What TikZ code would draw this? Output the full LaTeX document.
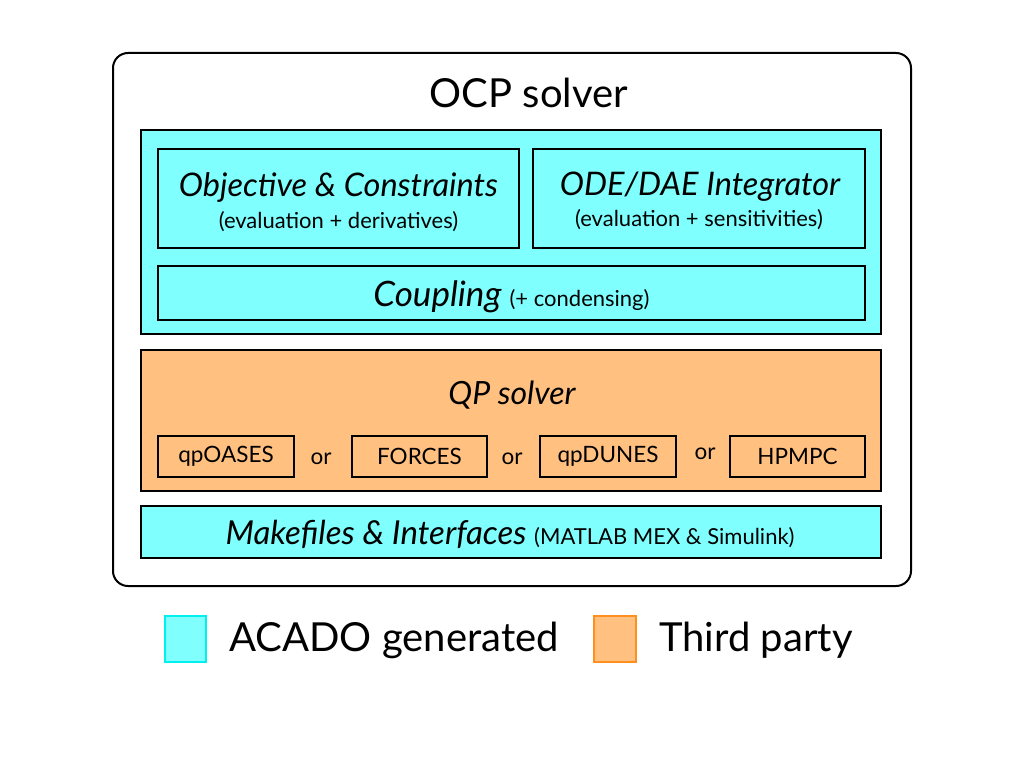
\documentclass[tikz,border=0pt]{standalone}
\usepackage{fontspec}
\setmainfont{Lato}
\definecolor{acado}{HTML}{80FFFF}
\definecolor{third}{HTML}{FFC080}
\definecolor{acadoedge}{HTML}{00F0F0}
\definecolor{thirdedge}{HTML}{FF9020}
\begin{document}
\begin{tikzpicture}[x=1pt,y=-1pt,
  box/.style={draw=black,line width=2pt},
  cyanbox/.style={box,fill=acado},
  orangebox/.style={box,fill=third},
  lbl/.style={inner sep=0pt,anchor=center}]
\useasboundingbox (0,0) rectangle (1024,768);
\draw[line width=2pt,rounded corners=15pt,fill=white] (113,53) rectangle (911,586);
\node[lbl,font=\fontsize{40}{42}\selectfont] (title) at (529,93) {OCP solver};
% ACADO group
\draw[cyanbox] (141,130) rectangle (881,334);
\draw[cyanbox] (158,149) rectangle (519,248);
\node[lbl,font=\fontsize{32.5}{34}\selectfont\itshape] (obj) at (338.5,187) {Objective \& Constraints};
\node[lbl,font=\fontsize{22}{24}\selectfont] (objs) at (338.5,222) {(evaluation + derivatives)};
\draw[cyanbox] (533,149) rectangle (865,248);
\node[lbl,font=\fontsize{32.5}{34}\selectfont\itshape] (ode) at (700,187) {ODE/DAE Integrator};
\node[lbl,font=\fontsize{22}{24}\selectfont] (odes) at (699,220) {(evaluation + sensitivities)};
\draw[cyanbox] (158,266) rectangle (865,320);
\node[lbl] (coup) at (511.5,297) {\fontsize{35}{37}\selectfont\itshape Coupling\ \fontsize{22}{24}\selectfont\upshape(+ condensing)};
% QP solver
\draw[orangebox] (141,350) rectangle (881,491);
\node[lbl,font=\fontsize{32}{34}\selectfont\itshape] (qp) at (512,395) {QP solver};
\tikzset{sub/.style={box,draw=black,minimum width=136pt,minimum height=41pt,inner sep=0pt,font=\fontsize{22.5}{24}\selectfont}}
\node[sub,minimum width=136pt] (qpoases) at (226,456.5) {\raisebox{-2pt}{qpOASES}};
\node[sub,minimum width=135pt] (forces) at (419.5,456.5) {\raisebox{-2pt}{FORCES}};
\node[sub,minimum width=136pt] (qpdunes) at (608,456.5) {\raisebox{-2pt}{qpDUNES}};
\node[sub,minimum width=135pt] (hpmpc) at (797.5,456.5) {\raisebox{-2pt}{HPMPC}};
\node[lbl,font=\fontsize{22.5}{24}\selectfont] (or1) at (321,459) {or};
\node[lbl,font=\fontsize{22.5}{24}\selectfont] (or2) at (512,459) {or};
\node[lbl,font=\fontsize{22.5}{24}\selectfont] (or3) at (705,454) {or};
% Makefiles
\draw[cyanbox] (141,506) rectangle (881,558);
\node[lbl] (make) at (510,534) {\fontsize{33}{35}\selectfont\itshape Makefiles \& Interfaces\ \fontsize{22}{24}\selectfont\upshape(MATLAB MEX \& Simulink)};
% Legend
\draw[line width=2pt,draw=acadoedge,fill=acado] (165,616) rectangle (206,662);
\node[lbl,anchor=west,font=\fontsize{40}{42}\selectfont] (lega) at (229,640) {ACADO generated};
\draw[line width=2pt,draw=thirdedge,fill=third] (594,616) rectangle (636,662);
\node[lbl,anchor=west,font=\fontsize{40}{42}\selectfont] (legb) at (659,640) {Third party};
\end{tikzpicture}
\end{document}
